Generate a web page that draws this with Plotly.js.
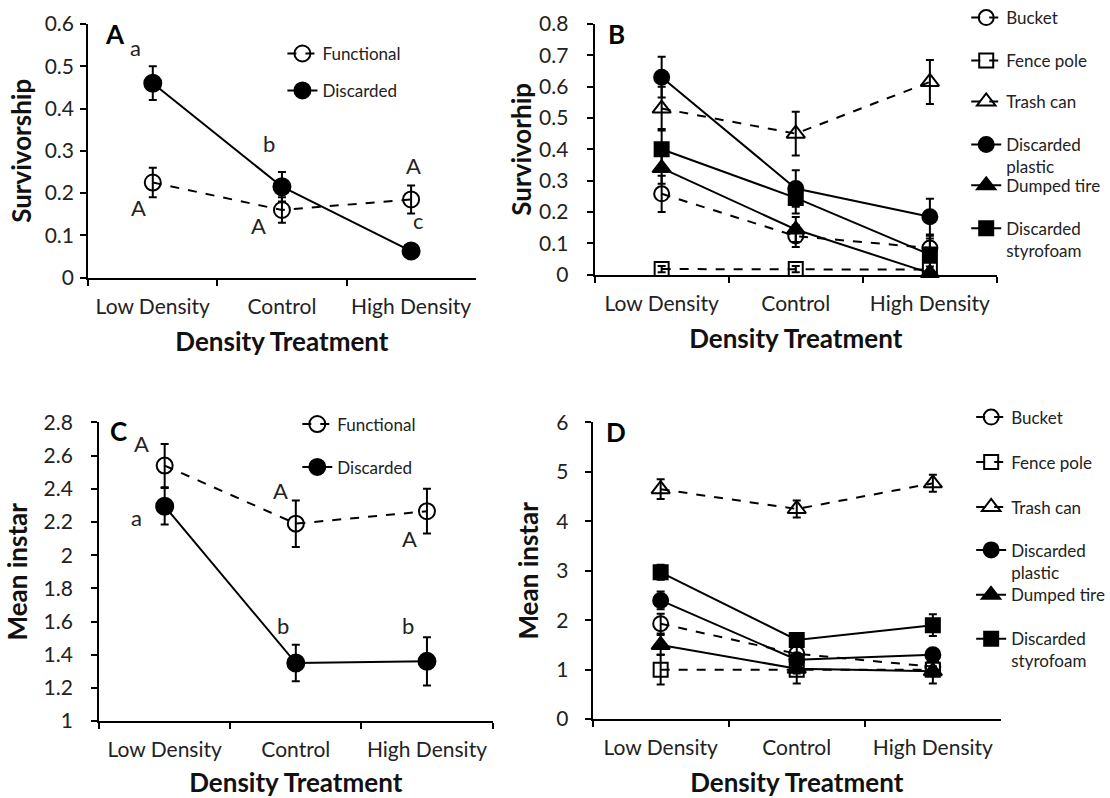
<!DOCTYPE html>
<html><head><meta charset="utf-8">
<script src="https://cdn.plot.ly/plotly-3.0.1.min.js"></script>
<style>html,body{margin:0;padding:0;background:#fff}#chart{width:1110px;height:798px}</style>
</head><body><div id="chart"></div>
<script>
const treatments = ['Low Density', 'Control', 'High Density'];

// Panel A: survivorship, functional vs discarded
const aFunctional = [0.225, 0.16, 0.185];
const aFunctionalErr = [0.035, 0.03, 0.033];
const aDiscarded = [0.46, 0.215, 0.063];
const aDiscardedErr = [0.04, 0.035, 0.008];
const aLettersFunctional = ['A', 'A', 'A'];
const aLettersDiscarded = ['a', 'b', 'c'];

// Panel B: survivorship by habitat
const bBucket = [0.258, 0.123, 0.085];
const bBucketErr = [0.058, 0.035, 0.03];
const bFence = [0.018, 0.018, 0.016];
const bFenceErr = [0.01, 0.01, 0.01];
const bTrash = [0.53, 0.45, 0.615];
const bTrashErr = [0.07, 0.07, 0.07];
const bPlastic = [0.63, 0.275, 0.185];
const bPlasticErr = [0.065, 0.058, 0.057];
const bTire = [0.34, 0.144, 0.005];
const bTireErr = [0.05, 0.04, 0.01];
const bStyro = [0.40, 0.245, 0.064];
const bStyroErr = [0.065, 0.05, 0.06];

// Panel C: mean instar, functional vs discarded
const cFunctional = [2.54, 2.19, 2.265];
const cFunctionalErr = [0.13, 0.14, 0.135];
const cDiscarded = [2.295, 1.35, 1.36];
const cDiscardedErr = [0.11, 0.11, 0.145];
const cLettersFunctional = ['A', 'A', 'A'];
const cLettersDiscarded = ['a', 'b', 'b'];

// Panel D: mean instar by habitat
const dBucket = [1.93, 1.32, 1.06];
const dBucketErr = [0.2, 0.15, 0.1];
const dFence = [1.0, 1.0, 1.0];
const dFenceErr = [0.3, 0.28, 0.28];
const dTrash = [4.65, 4.25, 4.77];
const dTrashErr = [0.2, 0.17, 0.17];
const dPlastic = [2.40, 1.20, 1.30];
const dPlasticErr = [0.18, 0.1, 0.1];
const dTire = [1.50, 1.02, 0.97];
const dTireErr = [0.2, 0.1, 0.1];
const dStyro = [2.97, 1.60, 1.90];
const dStyroErr = [0.15, 0.1, 0.22];

const habitatNames = ['Bucket', 'Fence pole', 'Trash can', 'Discarded<br>plastic', 'Dumped tire', 'Discarded<br>styrofoam'];
const FONT = 'Lato, "Open Sans", sans-serif';

function tr(y, err, name, sym, size, dash, xa, ya, leg) {
  return {
    type: 'scatter', mode: 'lines+markers', x: treatments, y: y, name: name,
    xaxis: xa, yaxis: ya, legend: leg, cliponaxis: false,
    line: {color: 'black', width: 2, dash: dash},
    marker: {symbol: sym, size: size, color: 'black', line: {color: 'black', width: 2}},
    error_y: {type: 'data', array: err, visible: true, color: 'black', thickness: 2, width: 4}
  };
}

const data = [
  tr(aFunctional, aFunctionalErr, 'Functional', 'circle-open', 16, 'dash', 'x', 'y', 'legend'),
  tr(aDiscarded, aDiscardedErr, 'Discarded', 'circle', 17, 'solid', 'x', 'y', 'legend2'),

  tr(bBucket, bBucketErr, habitatNames[0], 'circle-open', 15, 'dash', 'x2', 'y2', 'legend3'),
  tr(bFence, bFenceErr, habitatNames[1], 'square-open', 14, 'dash', 'x2', 'y2', 'legend4'),
  tr(bTrash, bTrashErr, habitatNames[2], 'triangle-up-open', 16, 'dash', 'x2', 'y2', 'legend5'),
  tr(bPlastic, bPlasticErr, habitatNames[3], 'circle', 15, 'solid', 'x2', 'y2', 'legend6'),
  tr(bTire, bTireErr, habitatNames[4], 'triangle-up', 16, 'solid', 'x2', 'y2', 'legend7'),
  tr(bStyro, bStyroErr, habitatNames[5], 'square', 14, 'solid', 'x2', 'y2', 'legend8'),

  tr(cFunctional, cFunctionalErr, 'Functional', 'circle-open', 16, 'dash', 'x3', 'y3', 'legend9'),
  tr(cDiscarded, cDiscardedErr, 'Discarded', 'circle', 17, 'solid', 'x3', 'y3', 'legend10'),

  tr(dBucket, dBucketErr, habitatNames[0], 'circle-open', 15, 'dash', 'x4', 'y4', 'legend11'),
  tr(dFence, dFenceErr, habitatNames[1], 'square-open', 14, 'dash', 'x4', 'y4', 'legend12'),
  tr(dTrash, dTrashErr, habitatNames[2], 'triangle-up-open', 16, 'dash', 'x4', 'y4', 'legend13'),
  tr(dPlastic, dPlasticErr, habitatNames[3], 'circle', 15, 'solid', 'x4', 'y4', 'legend14'),
  tr(dTire, dTireErr, habitatNames[4], 'triangle-up', 16, 'solid', 'x4', 'y4', 'legend15'),
  tr(dStyro, dStyroErr, habitatNames[5], 'square', 14, 'solid', 'x4', 'y4', 'legend16')
];

const W = 1110, H = 798;
function px(x) { return x / W; }
function py(y) { return 1 - y / H; }

function xax(x0, x1, anchor) {
  return {
    domain: [px(x0), px(x1)], anchor: anchor, type: 'category', categoryarray: treatments,
    range: [-0.5, 2.5], tickson: 'boundaries', ticks: 'outside', ticklen: 6, tickwidth: 2,
    tickcolor: 'black', showline: true, linewidth: 2, linecolor: 'black', showgrid: false,
    zeroline: false, fixedrange: true, ticklabelstandoff: 9, tickangle: 0,
    tickfont: {family: FONT, size: 21, color: '#222'},
    title: {text: '<b>Density Treatment</b>', font: {family: FONT, size: 26, color: '#111'}, standoff: 16}
  };
}
function yax(y0, y1, anchor, range, dtick, title, labelGap, titleGap) {
  return {
    domain: [py(y1), py(y0)], anchor: anchor, range: range, dtick: dtick,
    ticks: 'outside', ticklen: 6, tickwidth: 2, tickcolor: 'black',
    showline: true, linewidth: 2, linecolor: 'black', showgrid: false, zeroline: false,
    fixedrange: true, ticklabelstandoff: labelGap,
    tickfont: {family: FONT, size: 21, color: '#222'},
    title: {text: '<b>' + title + '</b>', font: {family: FONT, size: 26, color: '#111'}, standoff: titleGap}
  };
}

const legendSpots = [
  [285, 47], [285, 84],
  [975, 11], [975, 54], [975, 95], [975, 138], [975, 179], [975, 222],
  [300, 418], [300, 461],
  [980, 411], [980, 456], [980, 501], [980, 544], [980, 589], [980, 633]
];

const layout = {
  width: W, height: H, margin: {l: 0, r: 0, t: 0, b: 0},
  paper_bgcolor: 'white', plot_bgcolor: 'white',
  font: {family: FONT, color: '#222'},
  xaxis: xax(89, 480, 'y'),
  yaxis: yax(23, 277, 'x', [0, 0.6], 0.1, 'Survivorship', 2, 6),
  xaxis2: xax(600, 1006, 'y2'),
  yaxis2: yax(23, 274, 'x2', [0, 0.8], 0.1, 'Survivorhip', 14, 0),
  xaxis3: xax(100, 497, 'y3'),
  yaxis3: yax(422, 721, 'x3', [1, 2.8], 0.2, 'Mean instar', 14, 8),
  xaxis4: xax(598, 1010, 'y4'),
  yaxis4: yax(422, 719, 'x4', [0, 6], 1, 'Mean instar', 12, 10),
  annotations: [],
  showlegend: true
};

legendSpots.forEach(function (s, i) {
  const key = i === 0 ? 'legend' : 'legend' + (i + 1);
  layout[key] = {
    x: px(s[0]), y: py(s[1] - 12), xanchor: 'left', yanchor: 'top',
    bgcolor: 'rgba(0,0,0,0)', borderwidth: 0, valign: 'top',
    font: {family: FONT, size: 17, color: '#222'}, itemclick: false, itemdoubleclick: false
  };
});

function panelLetter(t, x, y) {
  layout.annotations.push({text: '<b>' + t + '</b>', x: px(x), y: py(y), xref: 'paper', yref: 'paper',
    xanchor: 'left', yanchor: 'middle',
    showarrow: false, font: {family: FONT, size: 26, color: 'black'}});
}
panelLetter('A', 104, 33);
panelLetter('B', 612, 33);
panelLetter('C', 109, 431);
panelLetter('D', 609, 432);

function letter(t, xa, ya, xi, y, xs) {
  layout.annotations.push({text: t, x: treatments[xi], y: y, xref: xa, yref: ya, xshift: xs,
    showarrow: false, font: {family: FONT, size: 22, color: '#222'}});
}
// Panel A significance letters
letter(aLettersDiscarded[0], 'x', 'y', 0, 0.545, -17);
letter(aLettersDiscarded[1], 'x', 'y', 1, 0.317, -13);
letter(aLettersDiscarded[2], 'x', 'y', 2, 0.135, 7);
letter(aLettersFunctional[0], 'x', 'y', 0, 0.165, -14);
letter(aLettersFunctional[1], 'x', 'y', 1, 0.123, -23);
letter(aLettersFunctional[2], 'x', 'y', 2, 0.265, 2);
// Panel C significance letters
letter(cLettersFunctional[0], 'x3', 'y3', 0, 2.675, -23);
letter(cLettersDiscarded[0], 'x3', 'y3', 0, 2.229, -28);
letter(cLettersFunctional[1], 'x3', 'y3', 1, 2.392, -15);
letter(cLettersFunctional[2], 'x3', 'y3', 2, 2.102, -17);
letter(cLettersDiscarded[1], 'x3', 'y3', 1, 1.578, -13);
letter(cLettersDiscarded[2], 'x3', 'y3', 2, 1.578, -19);

Plotly.newPlot('chart', data, layout, {displayModeBar: false, staticPlot: true});
</script></body></html>
